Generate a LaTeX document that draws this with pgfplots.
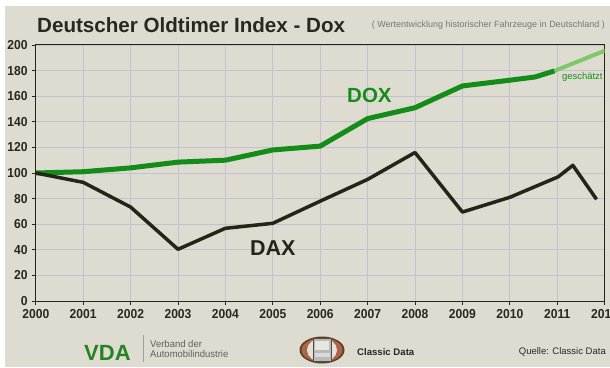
\documentclass[border=0pt]{standalone}
\usepackage{pgfplots}
\pgfplotsset{compat=1.18}
\usepackage{fontspec}
\setmainfont{Liberation Sans}
\definecolor{bg}{RGB}{222,220,208}
\definecolor{gridc}{RGB}{196,192,212}
\definecolor{doxg}{RGB}{20,140,25}
\definecolor{doxl}{RGB}{125,200,105}
\definecolor{daxc}{RGB}{38,36,22}
\definecolor{titlec}{RGB}{40,40,28}
\definecolor{subc}{RGB}{120,120,112}
\definecolor{vdag}{RGB}{35,130,35}
\definecolor{ringc}{RGB}{170,100,75}
\begin{document}
\begin{tikzpicture}[x=1pt,y=1pt]
\useasboundingbox (0,0) rectangle (610,367);
\fill[white] (0,0) rectangle (610,367);
\fill[bg] (5,0) rectangle (610,361);
\begin{axis}[
  at={(35.8pt,66pt)}, anchor=south west,
  scale only axis, width=568.8pt, height=256pt,
  xmin=2000, xmax=2012, ymin=0, ymax=200,
  xtick={2000,2001,...,2012}, ytick={0,20,...,200},
  /pgf/number format/1000 sep={},
  /pgf/number format/assume math mode=true,
  tick align=outside, tick pos=left,
  major tick length=4pt,
  tick style={draw=daxc, line width=0.8pt},
  axis line style={draw=daxc, line width=1pt},
  grid=major, grid style={gridc, line width=0.9pt},
  ticklabel style={font=\fontsize{13}{13}\selectfont\bfseries, text=titlec, xscale=0.93},
  xticklabel style={yshift=-1pt},
  yticklabel style={xshift=-1pt},
  axis background/.style={fill=bg},
]
\addplot[doxl, line width=4pt, line cap=round] coordinates {(2010.94,179.7) (2012,195.5)};
\addplot[doxg, line width=5pt, line join=round] coordinates {
(2000,100) (2001,101) (2002,104) (2003,108.5) (2004,110) (2005,118) (2006,121)
(2007,142.5) (2008,151) (2009,168) (2010,172.5) (2010.53,175) (2010.94,179.7)};
\addplot[daxc, line width=3.5pt, line join=round] coordinates {
(2000,100) (2001,92.7) (2002,73.4) (2003,40.4) (2004,56.8) (2005,60.7) (2006,78)
(2007,95) (2008,116) (2009,69.5) (2010,81) (2011.02,97) (2011.33,106) (2011.83,79.4)};
\end{axis}
% titles
\node[anchor=base west, font=\fontsize{20.6}{20.6}\selectfont\bfseries, text=titlec, inner sep=0] at (37,367-33) {Deutscher Oldtimer Index - Dox};
\node[anchor=base east, font=\fontsize{9}{9}\selectfont, text=subc, inner sep=0] at (605,367-28) {( Wertentwicklung historischer Fahrzeuge in Deutschland )};
% series labels
\node[anchor=base west, font=\fontsize{20.5}{20.5}\selectfont\bfseries, text=doxg, inner sep=0] at (347,367-103) {DOX};
\node[anchor=base west, font=\fontsize{21.5}{21.5}\selectfont\bfseries, text=daxc, inner sep=0] at (250,367-256) {DAX};
\node[anchor=base west, font=\fontsize{9.4}{9.4}\selectfont, text=doxg, inner sep=0] at (562,367-80) {geschätzt};
% footer
\node[anchor=base west, font=\fontsize{22}{22}\selectfont\bfseries, text=vdag, inner sep=0] at (84,367-360) {VDA};
\draw[subc!70, line width=0.6pt] (143,367-335) -- (143,367-362);
\node[anchor=base west, font=\fontsize{9.8}{9.8}\selectfont, text=subc!80!black, inner sep=0, xscale=0.97] at (150,367-347) {Verband der};
\node[anchor=base west, font=\fontsize{9.8}{9.8}\selectfont, text=subc!80!black, inner sep=0, xscale=0.97] at (150,367-357) {Automobilindustrie};
% logo
\fill[brown!50!black] (322,367-350) ellipse (22.5 and 13.5);
\fill[ringc] (322,367-350) ellipse (20.5 and 12);
\fill[bg!85!white] (322,367-350) ellipse (15 and 12);
\draw[gray!60!black, line width=1pt, fill=gray!55] (313,367-338) rectangle (331,367-361);
\fill[bg!70!white] (315,367-341) rectangle (329,367-350);
\fill[gray!30] (314.5,367-353) rectangle (329.5,367-357);
\node[anchor=base west, font=\fontsize{9.6}{9.6}\selectfont\bfseries, text=titlec, inner sep=0] at (357,367-355) {Classic Data};
\node[anchor=base east, font=\fontsize{9.5}{9.5}\selectfont, text=titlec, inner sep=0] at (606,367-354) {Quelle: Classic Data};
\end{tikzpicture}
\end{document}
